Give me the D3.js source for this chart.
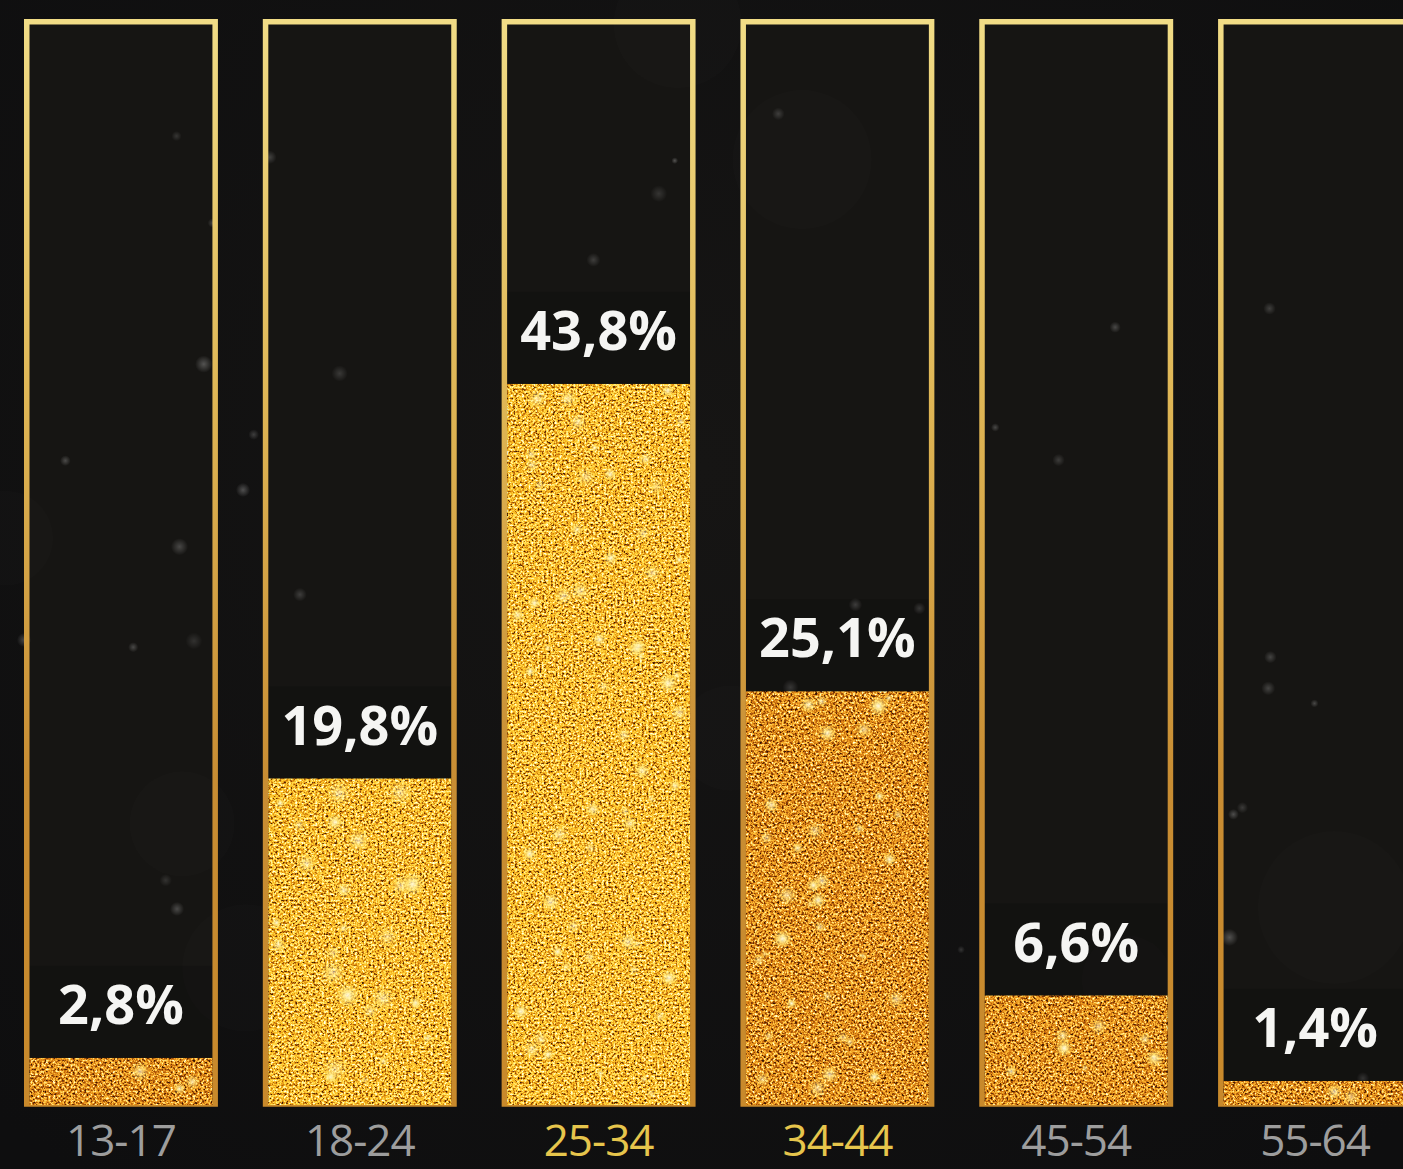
<!DOCTYPE html>
<html>
<head>
<meta charset="utf-8">
<script src="https://cdn.jsdelivr.net/npm/d3@7/dist/d3.min.js"></script>
<style>
html,body{margin:0;padding:0;background:#111111;overflow:hidden;}
svg{display:block;}
</style>
</head>
<body>
<svg id="chart" width="1403" height="1169"></svg>
<script>
// ---- data ----
const categories = ["13-17", "18-24", "25-34", "34-44", "45-54", "55-64"];
const values = [2.8, 19.8, 43.8, 25.1, 6.6, 1.4];
const valueLabels = ["2,8%", "19,8%", "43,8%", "25,1%", "6,6%", "1,4%"];
const highlighted = ["25-34", "34-44"];

// ---- layout ----
const W = 1403, H = 1169;
const svg = d3.select("#chart");
const x = d3.scaleBand().domain(categories).range([24, 1412]).paddingInner(0.188).paddingOuter(0);
const yTop = 19, yBottom = 1104;
const y = d3.scaleLinear().domain([0, 66]).range([yBottom, yTop]);
const sw = 5.5;

// seeded PRNG for decorative texture only
function lcg(seed){ let s = seed >>> 0; return () => (s = (s * 1664525 + 1013904223) >>> 0) / 4294967296; }
const rnd = lcg(20240611);

const defs = svg.append("defs");

const bg = defs.append("radialGradient").attr("id","bg").attr("cx","50%").attr("cy","40%").attr("r","75%");
bg.append("stop").attr("offset","0%").attr("stop-color","#161514");
bg.append("stop").attr("offset","100%").attr("stop-color","#0e0e0f");

const fg = defs.append("linearGradient").attr("id","frameGrad").attr("x1",0).attr("y1",0).attr("x2",0).attr("y2",1);
fg.append("stop").attr("offset","0%").attr("stop-color","#f1dc86");
fg.append("stop").attr("offset","35%").attr("stop-color","#dfb655");
fg.append("stop").attr("offset","70%").attr("stop-color","#c88d33");
fg.append("stop").attr("offset","100%").attr("stop-color","#c8892b");

function glitterFilter(id, seed, freq, tables){
  const f = defs.append("filter").attr("id", id).attr("x",0).attr("y",0).attr("width","100%").attr("height","100%")
    .attr("color-interpolation-filters","sRGB");
  f.append("feTurbulence").attr("type","fractalNoise").attr("baseFrequency",freq).attr("numOctaves",3).attr("seed",seed).attr("result","n");
  f.append("feColorMatrix").attr("in","n").attr("type","matrix")
    .attr("values","1.6 0 0 0 -0.3  1.6 0 0 0 -0.3  1.6 0 0 0 -0.3  0 0 0 0 1").attr("result","g");
  const ct = f.append("feComponentTransfer").attr("in","g").attr("result","c");
  ct.append("feFuncR").attr("type","table").attr("tableValues",tables[0]);
  ct.append("feFuncG").attr("type","table").attr("tableValues",tables[1]);
  ct.append("feFuncB").attr("type","table").attr("tableValues",tables[2]);
  f.append("feComposite").attr("in","c").attr("in2","SourceGraphic").attr("operator","in");
}
glitterFilter("glitterWarm", 7, 0.45, [
  "0.18 0.30 0.52 0.72 0.85 0.94 1 1 1 1",
  "0.07 0.13 0.24 0.38 0.50 0.63 0.76 0.86 0.95 1",
  "0.01 0.02 0.03 0.05 0.08 0.14 0.24 0.42 0.66 0.88"]);
glitterFilter("glitterBright", 11, 0.45, [
  "0.22 0.40 0.66 0.86 0.96 1 1 1 1 1",
  "0.10 0.20 0.36 0.54 0.70 0.80 0.88 0.94 0.98 1",
  "0.01 0.02 0.04 0.07 0.12 0.20 0.34 0.55 0.76 0.94"]);

const spark = defs.append("radialGradient").attr("id","spark");
spark.append("stop").attr("offset","0%").attr("stop-color","#fffbe6").attr("stop-opacity",1);
spark.append("stop").attr("offset","30%").attr("stop-color","#fff09a").attr("stop-opacity",0.85);
spark.append("stop").attr("offset","100%").attr("stop-color","#ffd84a").attr("stop-opacity",0);

const bokeh = defs.append("radialGradient").attr("id","bokeh");
bokeh.append("stop").attr("offset","0%").attr("stop-color","#ffffff").attr("stop-opacity",0.3);
bokeh.append("stop").attr("offset","100%").attr("stop-color","#ffffff").attr("stop-opacity",0);

svg.append("rect").attr("width",W).attr("height",H).attr("fill","url(#bg)");

const data = categories.map((c,i) => ({cat:c, v:values[i], label:valueLabels[i], i}));

// frame interiors
svg.append("g").selectAll("rect").data(data).join("rect")
  .attr("x", d => x(d.cat) + sw).attr("y", yTop + sw)
  .attr("width", x.bandwidth() - 2*sw).attr("height", yBottom - yTop - sw)
  .attr("fill", "#161513");

// faint bokeh decorations
const bokehG = svg.append("g");
for (let k = 0; k < 40; k++){
  const r = 3 + rnd()*6;
  bokehG.append("circle").attr("cx", rnd()*W).attr("cy", rnd()*1080).attr("r", r)
    .attr("fill","url(#bokeh)").attr("opacity", 0.4 + rnd()*0.5);
}
for (let k = 0; k < 8; k++){
  bokehG.append("circle").attr("cx", rnd()*W).attr("cy", rnd()*1000).attr("r", 40 + rnd()*40)
    .attr("fill","#ffffff").attr("opacity", 0.012);
}

// subtle dark boxes behind value labels
svg.append("g").selectAll("rect").data(data).join("rect")
  .attr("x", d => x(d.cat) + sw).attr("y", d => y(d.v) - 92)
  .attr("width", x.bandwidth() - 2*sw).attr("height", 92)
  .attr("fill", "#0c0b0a").attr("opacity", 0.28);

// frames
svg.append("g").selectAll("rect").data(data).join("rect")
  .attr("x", d => x(d.cat) + sw/2).attr("y", yTop + sw/2)
  .attr("width", x.bandwidth() - sw).attr("height", yBottom - yTop - sw/2)
  .attr("fill", "none").attr("stroke", "url(#frameGrad)").attr("stroke-width", sw);

// glitter fills
const fills = svg.append("g");
fills.selectAll("rect.fill").data(data).join("rect").attr("class","fill")
  .attr("x", d => x(d.cat) + sw).attr("y", d => y(d.v))
  .attr("width", x.bandwidth() - 2*sw).attr("height", d => yBottom + 1 - y(d.v))
  .attr("fill", "#c88a2a")
  .attr("filter", d => d.i === 1 || d.i === 2 ? "url(#glitterBright)" : "url(#glitterWarm)");

// sparkles inside fills (decorative)
const sparkG = svg.append("g");
data.forEach(d => {
  const x0 = x(d.cat) + sw + 8, x1 = x(d.cat) + x.bandwidth() - sw - 8;
  const y0 = y(d.v) + 6, y1 = yBottom - 4;
  const h = Math.max(0, y1 - y0);
  const n = Math.max(2, Math.round(h * (x1 - x0) / 2000));
  const rmax = d.i === 1 ? 15 : 11;
  for (let k = 0; k < n; k++){
    const r = 4 + rnd()*(rmax-4);
    sparkG.append("circle").attr("cx", x0 + rnd()*(x1-x0)).attr("cy", y0 + rnd()*h)
      .attr("r", Math.min(r, Math.max(3, h/2 + 3)))
      .attr("fill","url(#spark)").attr("opacity", 0.5 + rnd()*0.5);
  }
});

// value labels
svg.append("g").selectAll("text").data(data).join("text")
  .attr("x", d => x(d.cat) + x.bandwidth()/2)
  .attr("y", d => y(d.v) - 34)
  .attr("text-anchor","middle")
  .attr("font-family","'Open Sans', sans-serif").attr("font-weight",700).attr("font-size",54)
  .attr("fill","#f5f5f3")
  .text(d => d.label);

// category labels
svg.append("g").selectAll("text").data(data).join("text")
  .attr("x", d => x(d.cat) + x.bandwidth()/2)
  .attr("y", 1156)
  .attr("text-anchor","middle")
  .attr("font-family","'Open Sans', sans-serif").attr("font-weight",500).attr("font-size",44)
  .attr("letter-spacing", -1)
  .attr("fill", d => highlighted.includes(d.cat) ? "#e6c54c" : "#9d9d9d")
  .text(d => d.cat);
</script>
</body>
</html>
